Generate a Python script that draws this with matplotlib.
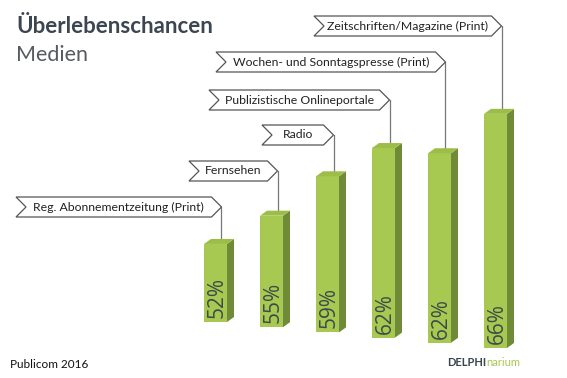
import matplotlib
matplotlib.use("Agg")
import matplotlib.pyplot as plt
from matplotlib.patches import Polygon
from matplotlib.transforms import Affine2D

# ---- data ----
categories = ["Reg. Abonnementzeitung (Print)", "Fernsehen", "Radio",
              "Publizistische Onlineportale", "Wochen- und Sonntagspresse (Print)",
              "Zeitschriften/Magazine (Print)"]
values = [52, 55, 59, 62, 62, 66]
value_labels = ["52%", "55%", "59%", "62%", "62%", "66%"]
title = "Überlebenschancen"
subtitle = "Medien"
source = "Publicom 2016"

# ---- layout / style ----
W, H = 567, 378
baseline = 45.0
px = 1 / 56.0      # data units per pixel (x)
py = 1 / 11.15     # data units per pixel (y)
front_c, side_c, top_c = "#a8c951", "#6f8b38", "#9cbd47"
txt_c = "#3d4a4a"

fig = plt.figure(figsize=(W / 100, H / 100), dpi=100)
ax = fig.add_axes([0, 0, 1, 1])
ax.set_xlim(-215.5 * px, (W - 215.5) * px)
ax.set_ylim(baseline - (H - 322) * py, baseline + 322 * py)
ax.axis("off")

pix = Affine2D().scale(1, -1).translate(0, H)   # pixel (top-left origin) -> display

hw = 11.5 * px
dx, dy = 7 * px, 5 * py

# callout box layout (pixel): left edge, vertical centre
box_left = [16, 189, 262, 209, 216, 314]
box_yc = [207, 171, 135, 100, 62, 26]

for i, (cat, v, lab) in enumerate(zip(categories, values, value_labels)):
    off = 5.2 * i * py
    x0, x1 = i - hw, i + hw
    b, t = baseline - off, v - off
    ax.add_patch(Polygon([(x0, b), (x1, b), (x1, t), (x0, t)], closed=True,
                         facecolor=front_c, edgecolor="none", zorder=3))
    ax.add_patch(Polygon([(x1, b), (x1 + dx, b + dy), (x1 + dx, t + dy), (x1, t)],
                         closed=True, facecolor=side_c, edgecolor="none", zorder=3))
    ax.add_patch(Polygon([(x0, t), (x0 + dx, t + dy), (x1 + dx, t + dy), (x1, t)],
                         closed=True, facecolor=top_c, edgecolor="none", zorder=3))
    ax.text(i + 2 * px, b + 4 * py, lab, rotation=90, ha="center", va="bottom",
            fontsize=15, color=txt_c, family="Open Sans", zorder=4)

    # callout
    lx = i + 6 * px
    T = ax.transData.transform((lx, 0))[0]     # display x == pixel x
    L = box_left[i]
    yc = box_yc[i]
    poly = [(L, yc - 10), (T - 10, yc - 10), (T, yc), (T - 10, yc + 10),
            (L, yc + 10), (L + 10, yc)]
    ax.add_patch(Polygon(poly, closed=True, facecolor="white", edgecolor="#555555",
                         linewidth=0.9, transform=pix, zorder=5))
    ax.text((L + T) / 2, yc, cat, transform=pix, ha="center", va="center",
            fontsize=8.8, color="#222222", family="Lato", zorder=6)
    y_box = baseline + (322 - yc) * py
    ax.plot([lx, lx], [t + dy / 2, y_box], color="#777777", lw=0.9, zorder=2)

fig.text(16 / W, 1 - 33 / H, title, fontsize=16, fontweight="bold", color="#3b4650",
         family="Lato", ha="left", va="baseline")
fig.text(16 / W, 1 - 61 / H, subtitle, fontsize=15.5, fontweight="normal", color="#555b61",
         family="Lato", ha="left", va="baseline")
fig.text(10 / W, 1 - 368 / H, source, fontsize=8.5, color="#111111", family="Lato",
         ha="left", va="baseline")
t1 = fig.text(447 / W, 1 - 366 / H, "DELPHI", fontsize=8, fontweight="bold",
              color="#3b4650", family="Lato", ha="left", va="baseline")
ax.annotate("narium", xy=(1, 0), xycoords=t1, va="bottom", ha="left",
            fontsize=8, color="#a8c951", family="Lato")

fig.savefig("out.png", dpi=100)
